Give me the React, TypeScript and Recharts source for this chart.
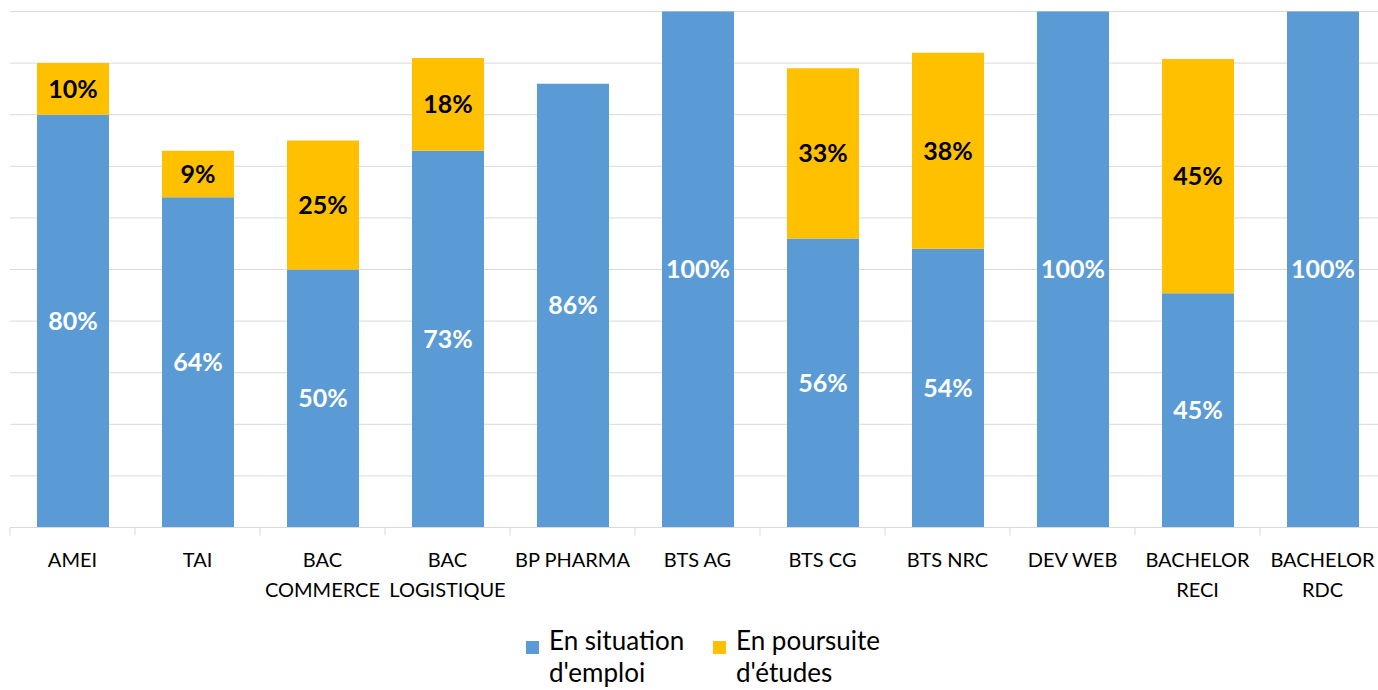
import React from 'react';
import { BarChart, Bar, XAxis, YAxis, CartesianGrid, Legend, LabelList } from 'recharts';

const CATEGORIES = [
  'AMEI',
  'TAI',
  'BAC\nCOMMERCE',
  'BAC\nLOGISTIQUE',
  'BP PHARMA',
  'BTS AG',
  'BTS CG',
  'BTS NRC',
  'DEV WEB',
  'BACHELOR\nRECI',
  'BACHELOR\nRDC',
];
const EMPLOI = [80, 64, 50, 73, 86, 100, 56, 54, 100, 45.4, 100];
const ETUDES: (number | null)[] = [10, 9, 25, 18, null, null, 33, 38, null, 45.4, null];
const Y_TICKS = [0, 10, 20, 30, 40, 50, 60, 70, 80, 90, 100];
const SERIES_KEYS = ['emploi', 'etudes'];
const SERIES_NAMES = ["En situation\nd'emploi", "En poursuite\nd'études"];

const data = CATEGORIES.map((c, i) => ({ cat: c, emploi: EMPLOI[i], etudes: ETUDES[i] }));

const FONT = 'Lato, "Open Sans", sans-serif';
const BLUE = '#5B9BD5';
const YELLOW = '#FFC000';
const GRID = '#d9d9d9';

const CHART_W = 1390;
const CHART_H = 690;
const MARGIN = { top: 11.5, right: 5, left: 10, bottom: 0 };
const BAND = (CHART_W - MARGIN.left - MARGIN.right) / CATEGORIES.length;
const TICK_SIZE = 8;

const fmt = (v: any) => (v === null || v === undefined || v === '' ? '' : `${Math.round(Number(v))}%`);

function CatTick(props: any) {
  const { x, y, payload, index, visibleTicksCount } = props;
  const axisY = y - TICK_SIZE;
  const lines = String(payload.value).split('\n');
  const isLast = index === (visibleTicksCount ?? CATEGORIES.length) - 1;
  return (
    <g>
      <line x1={x - BAND / 2} x2={x - BAND / 2} y1={axisY} y2={axisY + TICK_SIZE} stroke={GRID} />
      {isLast && <line x1={x + BAND / 2} x2={x + BAND / 2} y1={axisY} y2={axisY + TICK_SIZE} stroke={GRID} />}
      <text x={x} y={axisY + 39} textAnchor="middle" fontFamily={FONT} fontSize={20} fill="#000">
        {lines.map((l, i) => (
          <tspan key={i} x={x} dy={i === 0 ? 0 : 30}>
            {l}
          </tspan>
        ))}
      </text>
    </g>
  );
}

function LegendContent(props: any) {
  const payload = [...(props.payload || [])].sort(
    (a: any, b: any) => SERIES_KEYS.indexOf(a.dataKey) - SERIES_KEYS.indexOf(b.dataKey)
  );
  return (
    <div
      style={{
        display: 'flex',
        paddingLeft: 526,
        fontFamily: FONT,
        fontSize: 26,
        lineHeight: '32px',
        color: '#000',
        textAlign: 'left',
      }}
    >
      {payload.map((p: any, i: number) => (
        <div key={i} style={{ display: 'flex', alignItems: 'flex-start', width: i === 0 ? 187 : 'auto' }}>
          <span
            style={{ width: 13, height: 13, background: p.color, marginTop: 17, marginRight: 10, flex: 'none' }}
          />
          <span style={{ whiteSpace: 'pre-line' }}>{p.value}</span>
        </div>
      ))}
    </div>
  );
}

export default function App() {
  return (
    <div style={{ position: 'absolute', left: 0, top: 0, width: 1378, height: 690, overflow: 'hidden', background: '#fff' }}>
      <BarChart width={CHART_W} height={CHART_H} data={data} margin={MARGIN}>
        <CartesianGrid vertical={false} stroke={GRID} />
        <XAxis
          dataKey="cat"
          interval={0}
          height={102.5}
          tickSize={TICK_SIZE}
          tickMargin={0}
          tickLine={false}
          axisLine={{ stroke: GRID }}
          tick={<CatTick />}
        />
        <YAxis domain={[0, 100]} ticks={Y_TICKS} hide />
        <Legend
          content={<LegendContent />}
          wrapperStyle={{ position: 'absolute', left: 0, top: 624, width: 1378, height: 60 }}
        />
        <Bar dataKey="emploi" name={SERIES_NAMES[0]} stackId="a" fill={BLUE} barSize={72} isAnimationActive={false}>
          <LabelList
            dataKey="emploi"
            position="center"
            formatter={fmt}
            fill="#fff"
            fontFamily={FONT}
            fontWeight={700}
            fontSize={25}
          />
        </Bar>
        <Bar dataKey="etudes" name={SERIES_NAMES[1]} stackId="a" fill={YELLOW} barSize={72} isAnimationActive={false}>
          <LabelList
            dataKey="etudes"
            position="center"
            formatter={fmt}
            fill="#000"
            fontFamily={FONT}
            fontWeight={700}
            fontSize={25}
          />
        </Bar>
      </BarChart>
    </div>
  );
}
